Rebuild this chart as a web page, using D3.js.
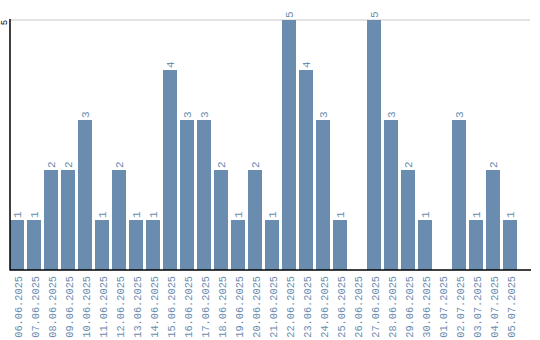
<!DOCTYPE html>
<html lang="en">
<head>
<meta charset="UTF-8">
<script src="https://cdnjs.cloudflare.com/ajax/libs/d3/7.8.5/d3.min.js"></script>
<style>
  body { margin: 0; background: #fff; }
  svg text { font-family: 'Liberation Mono', monospace; }
</style>
</head>
<body>
<div id="chart"></div>
<script>
const dates = ["06.06.2025","07.06.2025","08.06.2025","09.06.2025","10.06.2025","11.06.2025",
  "12.06.2025","13.06.2025","14.06.2025","15.06.2025","16.06.2025","17.06.2025","18.06.2025",
  "19.06.2025","20.06.2025","21.06.2025","22.06.2025","23.06.2025","24.06.2025","25.06.2025",
  "26.06.2025","27.06.2025","28.06.2025","29.06.2025","30.06.2025","01.07.2025","02.07.2025",
  "03.07.2025","04.07.2025","05.07.2025"];
const counts = [1,1,2,2,3,1,2,1,1,4,3,3,2,1,2,1,5,4,3,1,0,5,3,2,1,0,3,1,2,1];
const yTicks = [5];

const width = 540, height = 340;
const marginLeft = 10, plotTop = 20, base = 270;
const barColor = "#6a8caf";

const svg = d3.select("#chart").append("svg")
    .attr("width", width).attr("height", height);

const x = d3.scaleBand().domain(dates).range([marginLeft, 517]).paddingInner(3 / 17).paddingOuter(0);
const y = d3.scaleLinear().domain([0, 5]).range([base, plotTop]);

const rows = counts.map((c, i) => ({d: dates[i], c})).filter(o => o.c > 0);

// grid
svg.selectAll(".grid").data(yTicks).join("line")
    .attr("x1", marginLeft).attr("x2", 530)
    .attr("y1", d => y(d)).attr("y2", d => y(d))
    .attr("stroke", "#c8c8c8").attr("stroke-width", 1);

// bars
svg.selectAll(".bar").data(rows).join("rect")
    .attr("x", o => x(o.d)).attr("width", x.bandwidth())
    .attr("y", o => y(o.c)).attr("height", o => base - y(o.c))
    .attr("fill", barColor);

// value labels
svg.selectAll(".val").data(rows).join("text")
    .attr("transform", o => `translate(${x(o.d) + x.bandwidth() / 2 + 4},${y(o.c) - 2}) rotate(-90)`)
    .attr("font-size", 11).attr("fill", barColor)
    .text(o => o.c);

// x labels
svg.selectAll(".xl").data(dates).join("text")
    .attr("transform", d => `translate(${x(d) + x.bandwidth() / 2 + 4.5},${base + 6}) rotate(-90)`)
    .attr("text-anchor", "end")
    .attr("font-size", 10.3).attr("fill", barColor)
    .text(d => d);

// y labels
svg.selectAll(".yl").data(yTicks).join("text")
    .attr("transform", d => `translate(7,${y(d) + 2.5}) rotate(-90)`)
    .attr("text-anchor", "middle")
    .attr("font-size", 9).attr("fill", "#000")
    .text(d => d);

// axis lines
svg.append("line").attr("x1", marginLeft).attr("x2", marginLeft).attr("y1", 19).attr("y2", base + 0.5)
    .attr("stroke", "#000").attr("stroke-width", 1.5);
svg.append("line").attr("x1", marginLeft).attr("x2", 531).attr("y1", base).attr("y2", base)
    .attr("stroke", "#000").attr("stroke-width", 1.5);
</script>
</body>
</html>
